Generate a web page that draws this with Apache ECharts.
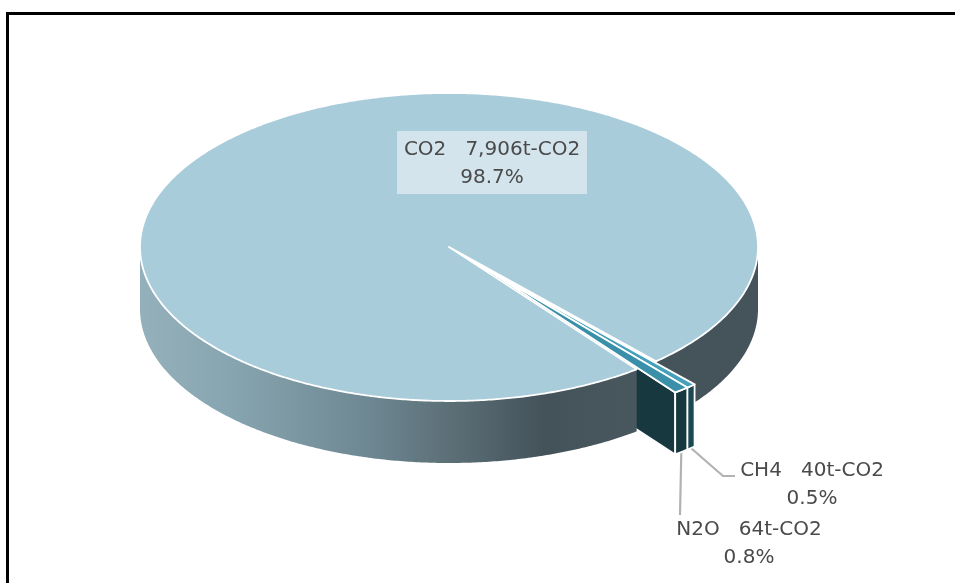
<!DOCTYPE html>
<html>
<head>
<meta charset="utf-8">
<title>Greenhouse gas emissions</title>
<script src="https://cdn.jsdelivr.net/npm/echarts@6/dist/echarts.min.js"></script>
<style>
  html, body { margin: 0; padding: 0; background: #fff; }
  #chart { width: 955px; height: 583px; }
</style>
</head>
<body>
<div id="chart"></div>
<script>
// Emissions by gas, clockwise from the large CO2 slice.
const gases = ['CO2', 'CH4', 'N2O'];
const emissions = [7906, 40, 64];
const shares = [98.7, 0.5, 0.8];

// Pie projection, in pixels.
const CX = 449, CY = 247, RX = 309, RY = 154, DEPTH = 62;
const START_DEG = 52.6;
const EXPLODE = 0.195;

const topColors = ['#a9ccdb', '#45a0bb', '#3a8fa9'];
const wallColors = ['#45535a', '#1c4853', '#17383f'];
const FONT = '20px "DejaVu Sans", sans-serif';
const TEXT_COLOR = '#4a4a4a';

// Where each label sits: centre of the text block, optional box and leader elbow.
const labelLayout = {
  CO2: { x: 492, y: 164, box: { x: 397, y: 131, width: 190, height: 63 } },
  CH4: { x: 812, y: 485, leader: [[723, 476], [735, 476]] },
  N2O: { x: 749, y: 544, leader: [[680, 515]] }
};

const total = emissions.reduce((a, b) => a + b, 0);
const toDeg = (v) => echarts.number.linearMap(v, [0, total], [START_DEG, START_DEG + 360]);
const rad = (d) => d * Math.PI / 180;

// The small slices are pulled out together along their shared bisector.
const pulledMid = (toDeg(emissions[0]) + toDeg(total)) / 2;
const PULL_X = RX * EXPLODE * Math.cos(rad(pulledMid));
const PULL_Y = RY * EXPLODE * Math.sin(rad(pulledMid));

function rimPoint(deg, dx, dy) {
  return [CX + dx + RX * Math.cos(rad(deg)), CY + dy + RY * Math.sin(rad(deg))];
}
function arc(from, to, dx, dy) {
  const pts = [];
  const n = Math.max(2, Math.ceil(Math.abs(to - from) * 2));
  for (let i = 0; i <= n; i++) pts.push(rimPoint(from + (to - from) * i / n, dx, dy));
  return pts;
}
function wall(from, to, dx, dy) {
  return arc(from, to, dx, dy).concat(arc(to, from, dx, dy + DEPTH));
}
const poly = (points, style, z2) => ({ type: 'polygon', shape: { points }, style, z2 });

function sideGradient() {
  return new echarts.graphic.LinearGradient(140, 0, 640, 0, [
    { offset: 0, color: '#94b0bb' },
    { offset: 0.18, color: '#87a5b0' },
    { offset: 0.446, color: '#6f8994' },
    { offset: 0.62, color: '#5c6f77' },
    { offset: 0.81, color: '#44525a' },
    { offset: 1, color: '#49575e' }
  ], true);
}

function renderSlice(params) {
  const i = params.dataIndex;
  const before = emissions.slice(0, i).reduce((a, b) => a + b, 0);
  const from = toDeg(before);
  const to = toDeg(before + emissions[i]);
  const children = [];
  const white = { stroke: '#ffffff', lineWidth: 1.8, lineJoin: 'round' };

  if (i === 0) {
    // Large slice: its side shows on both sides of the gap, down to the left edge.
    children.push(poly(wall(to - 360, 0, 0, 0), { fill: wallColors[0] }, 1));
    children.push(poly(wall(from, 180, 0, 0), { fill: sideGradient() }, 3));
    children.push(poly([[CX, CY]].concat(arc(from, to, 0, 0)),
      Object.assign({ fill: topColors[0] }, white), 4));
  } else {
    const apex = [CX + PULL_X, CY + PULL_Y];
    // The exposed cut face of the last slice sits behind the main side wall.
    if (i === emissions.length - 1) {
      const outer = rimPoint(to, PULL_X, PULL_Y);
      children.push(poly([apex, outer, [outer[0], outer[1] + DEPTH], [apex[0], apex[1] + DEPTH]],
        Object.assign({ fill: wallColors[i] }, white), 2));
    }
    children.push(poly(wall(from, to, PULL_X, PULL_Y), Object.assign({ fill: wallColors[i] }, white), 5));
    children.push(poly([apex].concat(arc(from, to, PULL_X, PULL_Y)),
      Object.assign({ fill: topColors[i] }, white), 6));
  }

  // Text block, box and leader line.
  const layout = labelLayout[gases[i]];
  if (layout.box) {
    children.push({ type: 'rect', shape: layout.box, style: { fill: '#d3e4ec' }, z2: 7 });
  }
  if (layout.leader) {
    const foot = rimPoint((from + to) / 2, PULL_X, PULL_Y + DEPTH);
    children.push({
      type: 'polyline',
      shape: { points: [foot].concat(layout.leader) },
      style: { stroke: '#b2b2b2', lineWidth: 2.2, fill: 'none' },
      z2: 4
    });
  }
  children.push({
    type: 'text',
    z2: 8,
    style: {
      x: layout.x,
      y: layout.y,
      text: gases[i] + '   ' + emissions[i].toLocaleString('en-US') + 't-CO2\n' + shares[i].toFixed(1) + '%',
      font: FONT,
      fill: TEXT_COLOR,
      align: 'center',
      verticalAlign: 'middle',
      lineHeight: 28
    }
  });
  return { type: 'group', children };
}

const chart = echarts.init(document.getElementById('chart'), null, { renderer: 'canvas' });
chart.setOption({
  animation: false,
  backgroundColor: '#ffffff',
  graphic: [
    { type: 'polyline', shape: { points: [[7.5, 583], [7.5, 13.5], [955, 13.5]] }, style: { stroke: '#000', lineWidth: 3, fill: 'none' } }
  ],
  series: [{
    type: 'custom',
    coordinateSystem: 'none',
    renderItem: renderSlice,
    data: gases.map((name, i) => ({ name, value: emissions[i] }))
  }]
});
</script>
</body>
</html>
